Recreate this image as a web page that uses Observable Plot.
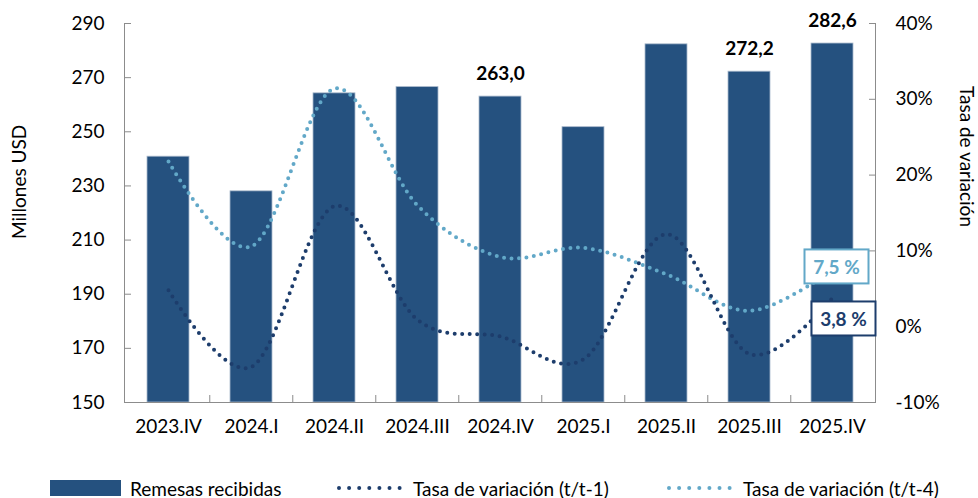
<!DOCTYPE html>
<html><head><meta charset="utf-8">
<script src="https://cdn.jsdelivr.net/npm/d3@7"></script>
<script src="https://cdn.jsdelivr.net/npm/@observablehq/plot@0.6"></script>
<style>
body{margin:0;background:#fff;font-family:Lato,sans-serif;}
#wrap{position:relative;width:978px;height:498px;overflow:hidden;}
.leg{position:absolute;top:478px;display:flex;align-items:center;font-size:19px;color:#000;height:20px;white-space:nowrap}
.leg svg{display:block}
</style></head><body>
<div id="wrap"><div id="chart"></div>
<div class="leg" style="left:50px"><svg width="71" height="16"><rect width="71" height="16" fill="#25517f"/></svg><span style="margin-left:9px">Remesas recibidas</span></div>
<div class="leg" style="left:336px"><svg width="66" height="8"><line x1="3" y1="4" x2="64" y2="4" stroke="#1d3d6c" stroke-width="4" stroke-linecap="round" stroke-dasharray="0 10.1"/></svg><span style="margin-left:11px">Tasa de variación (t/t-1)</span></div>
<div class="leg" style="left:666px"><svg width="66" height="8"><line x1="3" y1="4" x2="64" y2="4" stroke="#62a8c8" stroke-width="4" stroke-linecap="round" stroke-dasharray="0 10.1"/></svg><span style="margin-left:11px">Tasa de variación (t/t-4)</span></div>
</div>
<script>
const categories = ["2023.IV","2024.I","2024.II","2024.III","2024.IV","2025.I","2025.II","2025.III","2025.IV"];
const remesas = [240.8, 228.0, 264.2, 266.5, 263.0, 251.7, 282.3, 272.2, 282.6];
const tasaT1 = [4.8, -5.3, 15.9, 0.9, -1.3, -4.3, 12.2, -3.6, 3.8];
const tasaT4 = [21.8, 10.6, 31.4, 16.0, 9.2, 10.4, 6.9, 2.1, 7.5];
const barLabels = [null, null, null, null, "263,0", null, null, "272,2", "282,6"];
const leftTicks = [150, 170, 190, 210, 230, 250, 270, 290];
const rightTicks = [-10, 0, 10, 20, 30, 40];
const lastT1Label = "3,8 %";
const lastT4Label = "7,5 %";

const yMin = 150, yMax = 290, pMin = -10, pMax = 40;
const k = (yMax - yMin) / (pMax - pMin);
const toLeft = p => yMin + (p - pMin) * k;
const fromLeft = v => (v - yMin) / k + pMin;

const data = categories.map((c, i) => ({cat: c, v: remesas[i], t1: tasaT1[i], t4: tasaT4[i], label: barLabels[i]}));
const last = data[data.length - 1];

const W = 978, H = 460, mL = 124, mR = 103, mT = 23, mB = 58;
const step = (W - mL - mR) / categories.length;
const grey = "#8c8c8c";
const dark = "#1d3d6c", light = "#62a8c8", barFill = "#25517f";

const plot = Plot.plot({
  width: W, height: H,
  marginLeft: mL, marginRight: mR, marginTop: mT, marginBottom: mB,
  style: {fontFamily: "Lato, sans-serif", fontSize: "19px", background: "white"},
  x: {domain: categories, paddingInner: 0.5, paddingOuter: 0.25},
  y: {domain: [yMin, yMax]},
  marks: [
    Plot.barY(data, {x: "cat", y1: yMin, y2: "v", fill: barFill, stroke: "#a9b9cc", strokeWidth: 0.8}),
    Plot.line(data, {x: "cat", y: d => toLeft(d.t4), curve: "cardinal", stroke: light, strokeWidth: 4, strokeDasharray: "0 7.5", strokeLinecap: "round"}),
    Plot.line(data, {x: "cat", y: d => toLeft(d.t1), curve: "cardinal", stroke: dark, strokeWidth: 4, strokeDasharray: "0 7.5", strokeLinecap: "round"}),
    Plot.text(data.filter(d => d.label), {x: "cat", y: "v", text: "label", dy: -23, fontWeight: "bold", fontSize: 19, fill: "black"}),
    Plot.frame({anchor: "left", stroke: grey}),
    Plot.frame({anchor: "right", stroke: grey}),
    Plot.frame({anchor: "bottom", stroke: grey}),
    Plot.axisY(leftTicks, {anchor: "left", tickSize: -7, tickPadding: 27, stroke: grey, fill: "black", label: null, tickFormat: d => d}),
    Plot.axisY(rightTicks.map(toLeft), {anchor: "right", tickSize: -7, tickPadding: 27, stroke: grey, fill: "black", label: null, tickFormat: v => Math.round(fromLeft(v)) + "%"}),
    Plot.axisX(categories, {anchor: "bottom", tickSize: 0, tickPadding: 17, stroke: grey, fill: "black", label: null}),
    Plot.axisX(categories.slice(1), {anchor: "bottom", tickSize: -7, dx: -step / 2, stroke: grey, label: null, tickFormat: () => ""}),
    Plot.text([last], {x: "cat", y: d => toLeft(d.t4), text: () => lastT4Label, dx: 4, dy: -2, fill: light, fontWeight: "bold", fontSize: 19, className: "boxlight"}),
    Plot.text([last], {x: "cat", y: d => toLeft(d.t1), text: () => lastT1Label, dx: 11, dy: 22, fill: dark, fontWeight: "bold", fontSize: 19, className: "boxdark"}),
    Plot.text(["Millones USD"], {frameAnchor: "left", dx: -105, dy: 26, rotate: -90, fontSize: 19, fill: "black"}),
    Plot.text(["Tasa de variación"], {frameAnchor: "right", dx: 91, dy: 14, rotate: 90, fontSize: 19, fill: "black"})
  ]
});
document.getElementById("chart").appendChild(plot);

// white boxes with coloured borders behind the two last-value labels
function findTexts(cls, label) {
  let g = plot.querySelector("g." + cls);
  if (g) return [...g.querySelectorAll("text")];
  return [...plot.querySelectorAll("text")].filter(t => t.textContent === label);
}
for (const [cls, label, col] of [["boxlight", lastT4Label, light], ["boxdark", lastT1Label, dark]]) {
  findTexts(cls, label).forEach(t => {
    const b = t.getBBox();
    const r = document.createElementNS("http://www.w3.org/2000/svg", "rect");
    const w = 64, h = 34;
    r.setAttribute("x", b.x + b.width / 2 - w / 2);
    r.setAttribute("y", b.y + b.height / 2 - h / 2);
    r.setAttribute("width", w);
    r.setAttribute("height", h);
    r.setAttribute("fill", "white");
    r.setAttribute("stroke", col);
    r.setAttribute("stroke-width", 2);
    const tr = t.getAttribute("transform");
    if (tr) r.setAttribute("transform", tr);
    t.parentNode.insertBefore(r, t);
  });
}
</script>
</body></html>
